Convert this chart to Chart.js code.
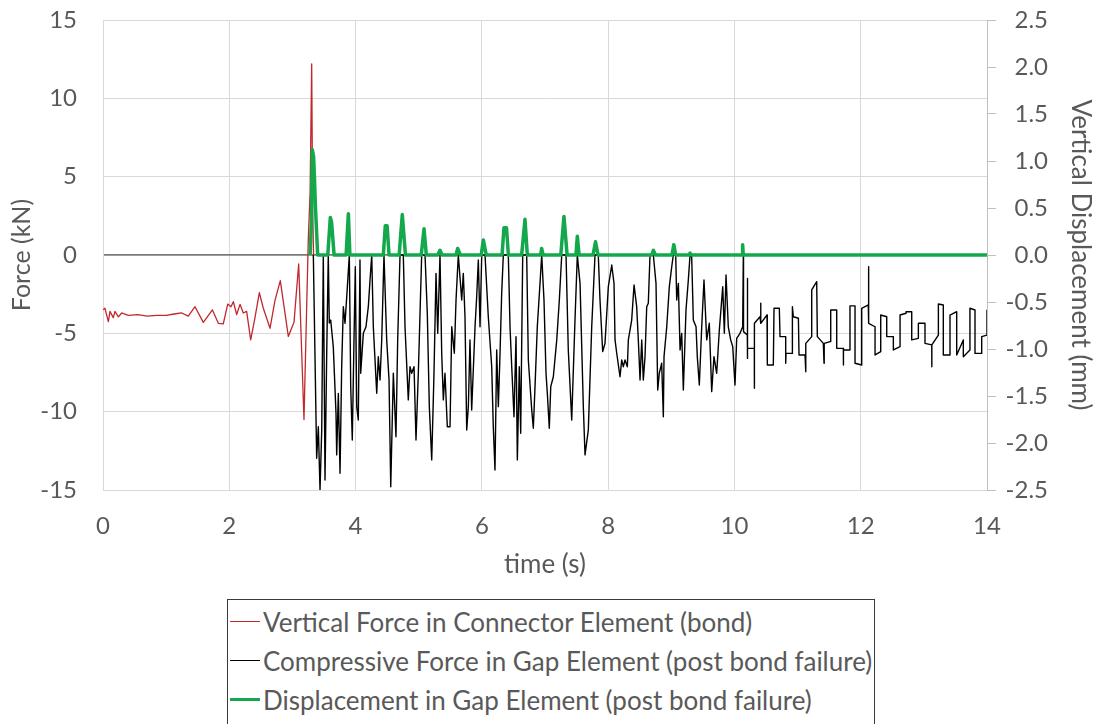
<!DOCTYPE html>
<html>
<head>
<meta charset="utf-8">
<script src="https://cdn.jsdelivr.net/npm/chart.js@4"></script>
<style>
  body { margin: 0; background: #fff; width: 1099px; height: 724px; overflow: hidden; position: relative; font-family: Lato, "Open Sans", sans-serif; }
  #wrap { position: absolute; left: 0; top: 0; width: 1099px; height: 590px; }
  #legend { position: absolute; left: 227px; top: 599px; width: 648px; height: 140px; border: 1px solid #3a3a3a; box-sizing: border-box; }
  .item { position: absolute; left: 2px; height: 39px; display: flex; align-items: center; color: #595959; font-size: 26px; white-space: nowrap; }
  .swatch { width: 30px; margin-right: 3px; }
</style>
</head>
<body>
<div id="wrap"><canvas id="chart"></canvas></div>
<div id="legend"></div>
<script>
  const seriesNames = ['Vertical Force in Connector Element (bond)', 'Compressive Force in Gap Element (post bond failure)', 'Displacement in Gap Element (post bond failure)'];
  const seriesColors = ['#c0282d', '#000000', '#14a84c'];
  const seriesWidths = [1.3, 1.4, 3.5];

  // red: connector force (kN) before bond failure
  const redTime = [0, 0.005, 0.03, 0.085, 0.11, 0.163, 0.19, 0.243, 0.296, 0.40, 0.55, 0.70, 0.85, 1.0, 1.15, 1.246, 1.351, 1.457, 1.589, 1.732, 1.826, 1.905, 1.975, 2.027, 2.064, 2.117, 2.17, 2.222, 2.275, 2.339, 2.407, 2.476, 2.539, 2.645, 2.724, 2.808, 2.935, 3.025, 3.099, 3.183, 3.251, 3.28, 3.305, 3.32, 3.335];
  const redForce = [-3.5, -3.5, -3.4, -4.25, -3.6, -4.0, -3.6, -3.95, -3.7, -3.85, -3.8, -3.9, -3.85, -3.85, -3.75, -3.7, -3.9, -3.3, -4.3, -3.5, -4.36, -4.4, -3.13, -3.3, -2.98, -3.8, -3.15, -3.7, -3.6, -5.42, -4.0, -2.4, -3.4, -4.68, -2.9, -1.64, -5.2, -4.3, -0.57, -10.5, 0.96, 4.0, 12.2, 3.0, 0];

  // black: gap element compressive force (kN)
  const blackTime = [3.331, 3.384, 3.41, 3.437, 3.464, 3.489, 3.516, 3.543, 3.568, 3.584, 3.606, 3.647, 3.69, 3.701, 3.727, 3.754, 3.78, 3.806, 3.833, 3.86, 3.901, 3.923, 3.948, 3.975, 3.996, 4.018, 4.043, 4.07, 4.081, 4.123, 4.165, 4.202, 4.229, 4.256, 4.281, 4.335, 4.36, 4.387, 4.414, 4.45, 4.493, 4.53, 4.557, 4.598, 4.64, 4.667, 4.704, 4.756, 4.783, 4.835, 4.862, 4.889, 4.926, 4.957, 4.994, 5.047, 5.1, 5.136, 5.168, 5.206, 5.242, 5.274, 5.301, 5.337, 5.364, 5.39, 5.416, 5.453, 5.496, 5.523, 5.564, 5.591, 5.627, 5.681, 5.706, 5.733, 5.76, 5.786, 5.812, 5.839, 5.892, 5.918, 5.944, 5.971, 5.998, 6.05, 6.102, 6.156, 6.181, 6.208, 6.235, 6.261, 6.288, 6.314, 6.34, 6.419, 6.446, 6.473, 6.509, 6.541, 6.562, 6.593, 6.615, 6.647, 6.71, 6.736, 6.79, 6.815, 6.842, 6.878, 6.921, 6.948, 6.984, 7.016, 7.037, 7.068, 7.091, 7.132, 7.186, 7.227, 7.265, 7.333, 7.369, 7.423, 7.475, 7.512, 7.555, 7.607, 7.634, 7.686, 7.74, 7.792, 7.844, 7.871, 7.914, 7.95, 8.003, 8.057, 8.093, 8.109, 8.136, 8.188, 8.215, 8.24, 8.267, 8.304, 8.32, 8.373, 8.41, 8.452, 8.478, 8.505, 8.532, 8.557, 8.584, 8.611, 8.636, 8.663, 8.716, 8.758, 8.785, 8.81, 8.848, 8.874, 8.885, 8.928, 8.969, 9.007, 9.032, 9.07, 9.086, 9.112, 9.139, 9.165, 9.191, 9.233, 9.27, 9.297, 9.323, 9.349, 9.392, 9.412, 9.444, 9.482, 9.518, 9.561, 9.602, 9.64, 9.676, 9.719, 9.761, 9.815, 9.84, 9.867, 9.903, 9.941, 9.973, 10.009, 10.036, 10.088, 10.131, 10.141, 10.144, 10.204, 10.204, 10.207, 10.21, 10.315, 10.315, 10.318, 10.405, 10.416, 10.418, 10.516, 10.521, 10.616, 10.627, 10.711, 10.722, 10.812, 10.812, 10.817, 10.918, 10.918, 10.933, 11.013, 11.023, 11.118, 11.129, 11.131, 11.224, 11.224, 11.303, 11.313, 11.408, 11.419, 11.422, 11.514, 11.525, 11.62, 11.62, 11.725, 11.725, 11.728, 11.83, 11.83, 11.91, 11.91, 12.016, 12.016, 12.12, 12.12, 12.131, 12.227, 12.227, 12.317, 12.317, 12.412, 12.412, 12.517, 12.517, 12.623, 12.623, 12.718, 12.718, 12.808, 12.808, 12.913, 12.913, 13.018, 13.018, 13.125, 13.125, 13.128, 13.23, 13.23, 13.308, 13.308, 13.414, 13.414, 13.52, 13.52, 13.625, 13.625, 13.73, 13.73, 13.81, 13.81, 13.916, 13.916, 14.0, 14.0];
  const blackForce = [0, -12.97, -10.96, -15.0, -11.17, 0, -14.36, -6.25, 0, -4.34, -4.15, -5.85, -10.08, -12.76, -8.83, -13.93, -7.13, -3.3, -4.36, -2.66, 0, -8.4, -11.81, -5.42, -0.75, -9.68, -10.53, -0.32, -7.55, -5.0, -4.58, -3.3, -1.6, 0, -4.58, -8.83, -6.49, -7.98, -5.42, 0, -5.42, -7.98, -14.79, -7.55, -11.6, -5.42, 0, 0, -4.58, -9.25, -7.13, -7.55, -7.13, -11.81, -7.55, 0, 0, -3.72, -9.68, -13.08, -7.55, -1.17, -5.0, 0, -6.27, -9.25, -7.55, -10.96, -10.96, -4.58, -6.27, -2.87, 0, -2.87, -1.17, -3.94, -11.17, -9.68, -5.42, -9.89, -4.58, -2.66, -0.32, -4.58, 0, 0, -3.94, -7.13, -10.96, -13.72, -6.06, -9.68, -6.27, -2.44, 0, 0, -4.58, -7.13, -10.32, -5.21, -13.08, -7.13, -11.38, 0, 0, -6.7, -9.89, -11.06, -8.4, -4.58, -1.81, 0, -2.87, -7.55, -8.83, -11.06, -8.4, -7.77, -5.42, -2.87, 0, 0, -6.06, -10.53, -4.15, 0, -1.81, -9.68, -12.76, -11.17, -4.58, 0, 0, -2.87, -6.17, -5.64, -2.02, -0.64, -1.81, -5.42, -6.27, -7.77, -6.7, -7.13, -6.7, -7.13, -5.42, -4.15, -1.91, -3.3, -5.42, -7.98, -5.42, -7.98, -6.49, -3.3, -3.08, 0, 0, -1.81, -8.62, -7.55, -6.91, -10.32, -6.49, -4.58, -2.02, -0.75, 0, 0, -2.87, -1.81, -6.06, -5.0, -8.62, -3.51, -1.6, 0, -0.1, -4.15, -4.58, -6.49, -8.3, -4.58, -1.6, -5.42, -4.36, -8.72, -6.49, -7.55, -4.79, -2.02, -5.0, -1.28, -4.58, -5.42, -5.85, -8.3, -5.32, -5.0, -4.58, 0, -4.89, -5.11, -1.49, -6.6, -5.96, -5.96, -8.51, -4.36, -3.94, -3.08, -4.36, -3.83, -7.02, -7.02, -3.4, -3.4, -5.21, -5.21, -6.91, -6.28, -6.28, -3.3, -3.94, -4.04, -6.38, -6.38, -7.45, -5.64, -5.21, -2.23, -1.7, -5.21, -5.64, -6.91, -5.64, -5.53, -3.51, -3.51, -5.96, -5.96, -7.02, -6.06, -6.06, -3.25, -3.25, -6.91, -7.02, -3.4, -3.19, -0.74, -4.36, -4.58, -6.38, -6.17, -3.83, -3.94, -5.21, -5.21, -6.06, -5.85, -3.83, -3.72, -3.62, -3.62, -5.42, -5.32, -4.36, -4.36, -5.64, -5.74, -7.13, -5.74, -5.11, -3.13, -3.19, -6.38, -6.38, -3.83, -3.62, -6.38, -5.42, -6.49, -6.06, -3.4, -3.51, -6.28, -6.28, -5.21, -5.11, -3.5];

  // green: gap element displacement (mm), right axis
  const greenTime = [3.28, 3.3, 3.315, 3.335, 3.35, 3.365, 3.4, 3.56, 3.6, 3.62, 3.66, 3.85, 3.886, 3.91, 4.44, 4.47, 4.5, 4.53, 4.69, 4.74, 4.79, 5.04, 5.084, 5.12, 5.3, 5.337, 5.37, 5.59, 5.617, 5.66, 5.99, 6.023, 6.07, 6.32, 6.35, 6.39, 6.42, 6.63, 6.683, 6.72, 6.93, 6.947, 6.97, 7.25, 7.3, 7.35, 7.49, 7.512, 7.54, 7.76, 7.8, 7.84, 8.69, 8.716, 8.75, 9.01, 9.04, 9.07, 9.28, 9.297, 9.32, 10.12, 10.13, 10.14, 14];
  const greenDisp = [0, 0.35, 1.12, 1.05, 0.8, 0.5, 0, 0, 0.4, 0.35, 0, 0, 0.44, 0, 0, 0.31, 0.31, 0, 0, 0.43, 0, 0, 0.28, 0, 0, 0.05, 0, 0, 0.07, 0, 0, 0.16, 0, 0, 0.29, 0.29, 0, 0, 0.38, 0, 0, 0.07, 0, 0, 0.41, 0, 0, 0.2, 0, 0, 0.14, 0, 0, 0.05, 0, 0, 0.11, 0, 0, 0.02, 0, 0, 0.11, 0, 0];

  const xMin = 0, xMax = 14, xStep = 2;
  const forceMin = -15, forceMax = 15, forceStep = 5;
  const dispMin = -2.5, dispMax = 2.5, dispStep = 0.5;

  const pts = (xs, ys) => xs.map((x, i) => ({ x: x, y: ys[i] }));
  const txt = '#595959';
  const fontName = 'Lato, "Open Sans", sans-serif';

  const ctx = document.getElementById('chart').getContext('2d');
  new Chart(ctx, {
    type: 'line',
    data: {
      datasets: [
        { label: seriesNames[0], data: pts(redTime, redForce), yAxisID: 'y', borderColor: seriesColors[0], borderWidth: seriesWidths[0], order: 3 },
        { label: seriesNames[1], data: pts(blackTime, blackForce), yAxisID: 'y', borderColor: seriesColors[1], borderWidth: seriesWidths[1], order: 2 },
        { label: seriesNames[2], data: pts(greenTime, greenDisp), yAxisID: 'y2', borderColor: seriesColors[2], borderWidth: seriesWidths[2], order: 1 }
      ]
    },
    options: {
      responsive: true,
      maintainAspectRatio: false,
      animation: false,
      elements: { point: { radius: 0 }, line: { tension: 0, borderJoinStyle: 'round' } },
      // right padding + narrow y2 box so its labels right-align like the spreadsheet
      layout: { padding: { top: 20, left: 0, right: 51, bottom: 0 } },
      plugins: { legend: { display: false }, tooltip: { enabled: false } },
      scales: {
        x: {
          type: 'linear', min: xMin, max: xMax,
          ticks: { stepSize: xStep, color: txt, font: { family: fontName, size: 24 }, padding: 22 },
          grid: { color: '#d9d9d9', drawTicks: false },
          border: { display: false },
          title: { display: true, text: 'time (s)', color: txt, font: { family: fontName, size: 26 }, padding: { top: 0, bottom: 10 } },
          afterFit: s => { s.height = 100; }
        },
        y: {
          position: 'left', min: forceMin, max: forceMax,
          ticks: { stepSize: forceStep, color: txt, font: { family: fontName, size: 24 }, padding: 3 },
          grid: {
            color: c => c.tick && c.tick.value === 0 ? '#7a7a7a' : '#d9d9d9',
            lineWidth: c => c.tick && c.tick.value === 0 ? 1.8 : 1,
            drawTicks: true, tickLength: 23, tickColor: 'rgba(0,0,0,0)'
          },
          border: { color: '#d9d9d9' },
          title: { display: true, text: 'Force (kN)', color: txt, font: { family: fontName, size: 25 }, padding: { top: 7, bottom: 0 } },
          afterFit: s => { s.width = 103; }
        },
        y2: {
          position: 'right', min: dispMin, max: dispMax,
          ticks: { stepSize: dispStep, color: txt, font: { family: fontName, size: 24 }, padding: 4, crossAlign: 'far', callback: v => v.toFixed(1) },
          grid: { drawOnChartArea: false, drawTicks: true, color: '#bfbfbf', tickLength: 9 },
          border: { color: '#bfbfbf' },
          title: { display: true, text: 'Vertical Displacement (mm)', color: txt, font: { family: fontName, size: 26 }, padding: { top: -48, bottom: 0 } },
          afterFit: s => { s.width = 61; }
        }
      }
    }
  });

  // legend box below the chart, like the spreadsheet one
  const legend = document.getElementById('legend');
  seriesNames.forEach((name, i) => {
    const row = document.createElement('div');
    row.className = 'item';
    row.style.top = (2 + i * 39) + 'px';
    const sw = document.createElement('span');
    sw.className = 'swatch';
    sw.style.borderTop = (i === 2 ? 3.5 : 1.3) + 'px solid ' + seriesColors[i];
    row.appendChild(sw);
    const label = document.createElement('span');
    label.textContent = name;
    row.appendChild(label);
    legend.appendChild(row);
  });
</script>
</body>
</html>
